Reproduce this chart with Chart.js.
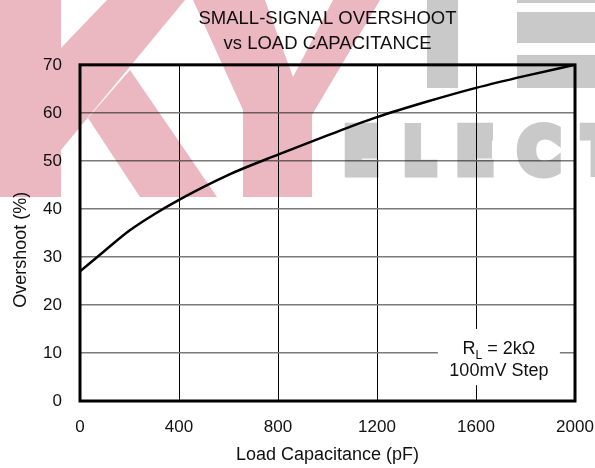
<!DOCTYPE html>
<html>
<head>
<meta charset="utf-8">
<script src="https://cdn.jsdelivr.net/npm/chart.js@4.4.0/dist/chart.umd.min.js"></script>
<style>
  html, body { margin: 0; padding: 0; background: #fff; }
</style>
</head>
<body>
<canvas id="chart" width="595" height="468"></canvas>
<script>
// Overshoot vs load capacitance
const loadCap = [0, 100, 200, 300, 400, 600, 800, 1000, 1200, 1400, 1600, 1800, 2000]
const overshoot = [27, 31.3, 35.5, 38.9, 41.9, 47.1, 51.3, 55.3, 59.1, 62.3, 65.2, 67.7, 70]

const xTicks = [0, 400, 800, 1200, 1600, 2000]
const yTicks = [0, 10, 20, 30, 40, 50, 60, 70]

const titleLines = ['SMALL-SIGNAL OVERSHOOT', 'vs LOAD CAPACITANCE']
const xTitle = 'Load Capacitance (pF)'
const yTitle = 'Overshoot (%)'

// note box in data units (pF, %)
const noteBox = { x0: 1446, x1: 1939, y0: 3.3, y1: 15 }

const FAMILY = '"Liberation Sans", Arial, sans-serif'
const INK = '#111'

// Background logo, canvas pixels. Only decoration, multiplied over the chart.
const logoPink = '#ebb7c1'
const logoGrey = '#c9c9c9'
const logoPolys = [
    [[0, 0], [61, 0], [61, 197], [0, 197]],
    [[61, 48], [107, 0], [185, 0], [61, 150]],
    [[88, 118], [130, 70], [217, 197], [140, 197]],
    [[193, 0], [265, 0], [293, 77], [333, 0], [380, 0], [312, 115], [312, 197], [243, 197], [243, 110]]
]
const logoBars = [[427, 0, 31, 88], [517, 0, 78, 3], [517, 12, 78, 31], [517, 55, 78, 33]]
// letter, left edge, box width
const logoLetters = [['E', 345, 33], ['L', 405, 32], ['E', 458, 35], ['C', 518, 42], ['T', 580, 36]]

const background = {
    id: 'background',
    beforeDraw(chart) {
        const ctx = chart.ctx
        ctx.save()
        ctx.fillStyle = '#fff'
        ctx.fillRect(0, 0, chart.width, chart.height)
        ctx.restore()
    }
}

const frameAndNote = {
    id: 'frameAndNote',
    afterDatasetsDraw(chart) {
        const {ctx, chartArea: a, scales: {x, y}} = chart
        ctx.save()

        // white box behind the note
        const bx0 = x.getPixelForValue(noteBox.x0), bx1 = x.getPixelForValue(noteBox.x1)
        const by0 = y.getPixelForValue(noteBox.y1), by1 = y.getPixelForValue(noteBox.y0)
        ctx.fillStyle = '#fff'
        ctx.fillRect(bx0, by0, bx1 - bx0, by1 - by0)

        // R_L = 2kΩ with a subscript
        const cx = (bx0 + bx1) / 2
        const base1 = y.getPixelForValue(9.8)
        const big = `18px ${FAMILY}`, small = `12px ${FAMILY}`
        ctx.fillStyle = INK
        ctx.textBaseline = 'alphabetic'
        ctx.textAlign = 'left'
        ctx.font = big
        const wR = ctx.measureText('R').width
        const wRest = ctx.measureText(' = 2kΩ').width
        ctx.font = small
        const wL = ctx.measureText('L').width
        const px = cx - (wR + wL + wRest) / 2
        ctx.font = big
        ctx.fillText('R', px, base1)
        ctx.font = small
        ctx.fillText('L', px + wR, base1 + 5)
        ctx.font = big
        ctx.fillText(' = 2kΩ', px + wR + wL, base1)

        ctx.textAlign = 'center'
        ctx.fillText('100mV Step', cx, y.getPixelForValue(5.2))

        // heavy frame
        ctx.strokeStyle = '#000'
        ctx.lineWidth = 3
        ctx.strokeRect(a.left, a.top, a.right - a.left, a.bottom - a.top)

        // y axis title, a little below the centre as in the original
        ctx.save()
        ctx.translate(21.5, y.getPixelForValue(31.5))
        ctx.rotate(-Math.PI / 2)
        ctx.font = `18px ${FAMILY}`
        ctx.textAlign = 'center'
        ctx.textBaseline = 'middle'
        ctx.fillText(yTitle, 0, 0)
        ctx.restore()

        ctx.restore()
    }
}

// draws the logo on its own layer, then multiplies it over the chart once
const logo = {
    id: 'logo',
    afterDraw(chart) {
        const layer = document.createElement('canvas')
        layer.width = chart.width
        layer.height = chart.height
        const g = layer.getContext('2d')
        g.fillStyle = '#fff'
        g.fillRect(0, 0, layer.width, layer.height)

        g.fillStyle = logoPink
        for (const poly of logoPolys) {
            g.beginPath()
            poly.forEach(([px, py], i) => i ? g.lineTo(px, py) : g.moveTo(px, py))
            g.closePath()
            g.fill()
        }
        g.fillStyle = logoGrey
        g.strokeStyle = logoGrey
        for (const [bx, by, bw, bh] of logoBars) g.fillRect(bx, by, bw, bh)

        // heavy condensed letters: fill plus a fat stroke
        const lw = 9
        g.font = 'bold 63px "DejaVu Sans", sans-serif'
        g.textBaseline = 'alphabetic'
        g.textAlign = 'left'
        g.lineWidth = lw
        g.lineJoin = 'miter'
        g.miterLimit = 10
        for (const [ch, lx, w] of logoLetters) {
            const m = g.measureText(ch)
            const gw = m.actualBoundingBoxLeft + m.actualBoundingBoxRight
            const sx = (w - lw * 0.6) / gw
            g.save()
            g.translate(lx + lw * 0.3, 177 - lw / 2)
            g.scale(sx, 1)
            g.translate(m.actualBoundingBoxLeft, 0)
            g.fillText(ch, 0, 0)
            g.strokeText(ch, 0, 0)
            g.restore()
        }

        const ctx = chart.ctx
        ctx.save()
        ctx.globalCompositeOperation = 'multiply'
        ctx.drawImage(layer, 0, 0)
        ctx.restore()
    }
}

const tickFont = { family: FAMILY, size: 17 }
const labelFont = { family: FAMILY, size: 18 }

new Chart(document.getElementById('chart'), {
    type: 'line',
    data: {
        datasets: [{
            data: loadCap.map((c, i) => ({ x: c, y: overshoot[i] })),
            borderColor: '#000',
            borderWidth: 2.5,
            pointRadius: 0,
            fill: false,
            tension: 0.4,
            cubicInterpolationMode: 'monotone'
        }]
    },
    options: {
        responsive: false,
        animation: false,
        devicePixelRatio: 1,
        layout: { padding: { top: 0, right: 20, bottom: 0, left: 0 } },
        plugins: {
            legend: { display: false },
            tooltip: { enabled: false },
            title: {
                display: true,
                text: titleLines,
                fullSize: false,
                color: INK,
                font: { family: FAMILY, size: 18.5, weight: 'normal', lineHeight: 1.32 },
                padding: { top: 7, bottom: 9 }
            }
        },
        scales: {
            x: {
                type: 'linear',
                min: 0,
                max: 2000,
                afterBuildTicks: s => { s.ticks = xTicks.map(v => ({ value: v })) },
                afterFit: s => { s.height = 67; s.paddingLeft = 0; s.paddingRight = 0 },
                grid: { color: '#000', lineWidth: 1, drawTicks: false },
                border: { display: false },
                ticks: { padding: 16, font: tickFont, color: INK, maxRotation: 0, callback: v => String(v) },
                title: { display: true, text: xTitle, font: labelFont, color: INK, padding: { top: 0, bottom: 2 } }
            },
            y: {
                min: 0,
                max: 70,
                afterBuildTicks: s => { s.ticks = yTicks.map(v => ({ value: v })) },
                afterFit: s => { s.width = 80; s.paddingTop = 0; s.paddingBottom = 0 },
                grid: { color: '#7a7a7a', lineWidth: 1.5, drawTicks: false },
                border: { display: false },
                ticks: { padding: 18, font: tickFont, color: INK, callback: v => String(v) },
                title: { display: false }
            }
        }
    },
    plugins: [background, frameAndNote, logo]
})
</script>
</body>
</html>
